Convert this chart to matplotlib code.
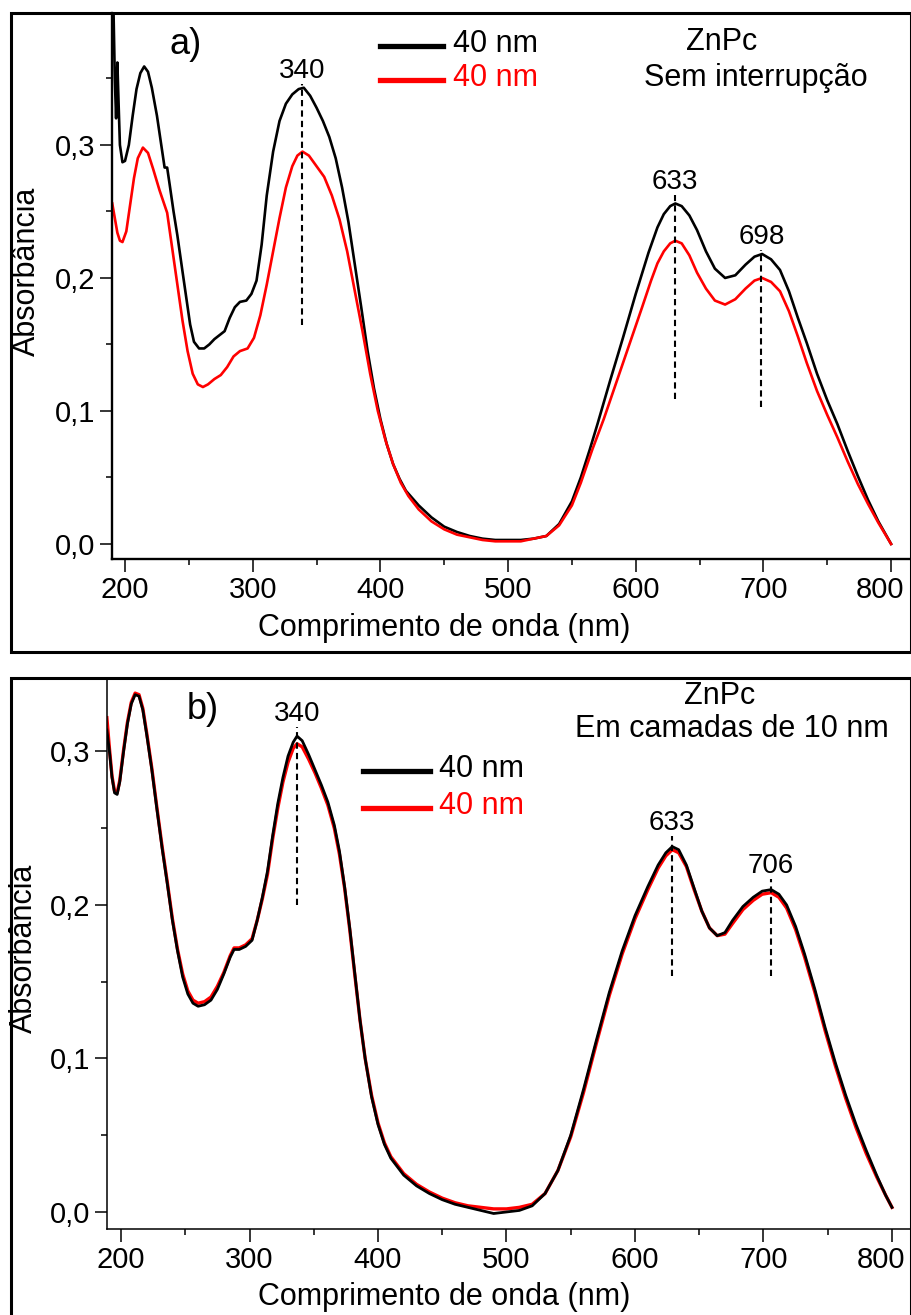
import numpy as np
import matplotlib
matplotlib.use("Agg")
import matplotlib.pyplot as plt
from matplotlib.patches import Rectangle
from matplotlib.ticker import MultipleLocator, FuncFormatter
from matplotlib.transforms import ScaledTranslation

plt.rcParams['font.family'] = ['Liberation Sans', 'DejaVu Sans']

W, H = 912, 1315

# ---- panel a: sem interrupção ----
wl_a_black = [190, 191, 192, 193, 194, 195, 196, 198, 200, 203, 206, 209, 212, 215, 218, 221, 225,
              229, 231, 233, 235, 238, 241, 245, 248, 251, 254, 258, 262, 266, 270, 274, 278, 282,
              286, 290, 295, 299, 303, 307, 311, 316, 321, 326, 331, 336, 340, 345, 350, 355, 360,
              365, 370, 375, 380, 385, 390, 395, 400, 405, 410, 415, 420, 430, 440, 450, 460, 470,
              480, 490, 500, 510, 520, 530, 540, 550, 557, 564, 570, 580, 590, 600, 610, 617, 622,
              627, 631, 636, 642, 648, 655, 662, 670, 678, 686, 693, 699, 706, 713, 720, 727, 734,
              742, 750, 758, 766, 774, 782, 790, 800]
abs_a_black = [0.41, 0.40, 0.35, 0.32, 0.362, 0.33, 0.30, 0.287, 0.288, 0.30, 0.322, 0.342, 0.354,
               0.359, 0.355, 0.343, 0.322, 0.296, 0.283, 0.283, 0.27, 0.25, 0.232, 0.205, 0.185,
               0.165, 0.152, 0.147, 0.147, 0.150, 0.154, 0.157, 0.160, 0.170, 0.178, 0.182, 0.183,
               0.188, 0.198, 0.225, 0.262, 0.295, 0.318, 0.331, 0.338, 0.342, 0.343, 0.337, 0.328,
               0.318, 0.306, 0.290, 0.268, 0.242, 0.210, 0.178, 0.145, 0.117, 0.094, 0.075, 0.060,
               0.049, 0.040, 0.029, 0.020, 0.013, 0.009, 0.006, 0.004, 0.003, 0.003, 0.003, 0.004,
               0.006, 0.015, 0.032, 0.050, 0.071, 0.090, 0.123, 0.155, 0.188, 0.219, 0.238, 0.248,
               0.254, 0.256, 0.254, 0.247, 0.236, 0.220, 0.207, 0.200, 0.202, 0.210, 0.216, 0.218,
               0.214, 0.206, 0.190, 0.170, 0.151, 0.128, 0.108, 0.090, 0.070, 0.051, 0.033, 0.017,
               0.0]

wl_a_red = [190, 192, 194, 196, 198, 201, 204, 207, 210, 214, 218, 222, 227, 233, 237, 241, 245,
            249, 253, 257, 261, 265, 270, 275, 280, 285, 290, 296, 301, 306, 311, 316, 321, 326,
            331, 335, 339, 344, 350, 356, 362, 368, 374, 380, 386, 392, 398, 404, 410, 416, 422,
            430, 440, 450, 460, 470, 480, 490, 500, 510, 520, 530, 540, 550, 557, 566, 575, 585,
            595, 605, 612, 617, 622, 627, 631, 636, 642, 648, 655, 662, 670, 678, 686, 693, 699,
            706, 713, 720, 727, 734, 742, 750, 758, 766, 774, 782, 790, 800]
abs_a_red = [0.256, 0.245, 0.234, 0.228, 0.227, 0.235, 0.255, 0.275, 0.290, 0.298, 0.294, 0.282,
             0.266, 0.249, 0.222, 0.195, 0.168, 0.145, 0.128, 0.120, 0.118, 0.120, 0.124, 0.127,
             0.133, 0.141, 0.145, 0.147, 0.155, 0.172, 0.195, 0.220, 0.245, 0.268, 0.284, 0.292,
             0.295, 0.292, 0.284, 0.276, 0.262, 0.244, 0.220, 0.190, 0.160, 0.128, 0.100, 0.078,
             0.060, 0.046, 0.036, 0.026, 0.017, 0.011, 0.007, 0.005, 0.003, 0.002, 0.002, 0.002,
             0.004, 0.006, 0.014, 0.029, 0.046, 0.071, 0.094, 0.122, 0.150, 0.178, 0.198, 0.211,
             0.220, 0.226, 0.228, 0.226, 0.217, 0.204, 0.192, 0.183, 0.180, 0.184, 0.192, 0.198,
             0.200, 0.197, 0.190, 0.175, 0.156, 0.136, 0.115, 0.097, 0.080, 0.062, 0.045, 0.030,
             0.016, 0.0]

# ---- panel b: em camadas de 10 nm ----
wl_b = [189, 191, 193, 195, 197, 199, 202, 205, 208, 211, 214, 217, 220, 224, 228, 232, 236, 240,
        244, 248, 252, 256, 260, 265, 270, 275, 280, 285, 288, 292, 297, 302, 306, 310, 314, 318,
        322, 326, 330, 334, 337, 341, 346, 351, 356, 361, 366, 370, 374, 378, 382, 386, 390, 395,
        400, 405, 410, 420, 430, 440, 450, 460, 470, 480, 490, 500, 510, 520, 530, 540, 550, 560,
        570, 580, 590, 600, 610, 618, 624, 629, 634, 640, 646, 652, 658, 664, 670, 676, 684, 692,
        699, 706, 712, 718, 725, 732, 740, 748, 756, 764, 772, 780, 788, 795, 800]
abs_b_black = [0.314, 0.300, 0.283, 0.273, 0.272, 0.280, 0.300, 0.318, 0.331, 0.337, 0.336, 0.327,
               0.311, 0.288, 0.262, 0.237, 0.214, 0.190, 0.170, 0.153, 0.142, 0.136, 0.134, 0.135,
               0.138, 0.145, 0.155, 0.166, 0.171, 0.171, 0.173, 0.177, 0.190, 0.205, 0.222, 0.245,
               0.266, 0.283, 0.297, 0.306, 0.310, 0.307, 0.298, 0.288, 0.278, 0.267, 0.252, 0.235,
               0.212, 0.185, 0.155, 0.125, 0.100, 0.075, 0.057, 0.044, 0.035, 0.024, 0.017, 0.012,
               0.008, 0.005, 0.003, 0.001, -0.001, 0.000, 0.001, 0.004, 0.012, 0.027, 0.050, 0.080,
               0.112, 0.143, 0.170, 0.193, 0.212, 0.226, 0.234, 0.238, 0.236, 0.226, 0.211, 0.196,
               0.185, 0.180, 0.182, 0.190, 0.199, 0.205, 0.209, 0.210, 0.207, 0.200, 0.186, 0.168,
               0.145, 0.120, 0.097, 0.076, 0.057, 0.040, 0.024, 0.011, 0.003]
abs_b_red = [0.322, 0.302, 0.284, 0.274, 0.273, 0.281, 0.301, 0.319, 0.332, 0.338, 0.337, 0.328,
             0.312, 0.289, 0.263, 0.238, 0.215, 0.191, 0.171, 0.155, 0.144, 0.138, 0.136, 0.137,
             0.140, 0.147, 0.156, 0.167, 0.172, 0.172, 0.174, 0.178, 0.190, 0.204, 0.220, 0.243,
             0.263, 0.280, 0.293, 0.302, 0.305, 0.303, 0.295, 0.286, 0.276, 0.265, 0.250, 0.233,
             0.211, 0.184, 0.154, 0.125, 0.100, 0.076, 0.058, 0.045, 0.036, 0.025, 0.018, 0.013,
             0.009, 0.006, 0.004, 0.003, 0.002, 0.002, 0.003, 0.005, 0.012, 0.027, 0.049, 0.078,
             0.110, 0.141, 0.168, 0.191, 0.210, 0.224, 0.232, 0.236, 0.234, 0.225, 0.210, 0.196,
             0.185, 0.180, 0.181, 0.188, 0.197, 0.203, 0.207, 0.208, 0.205, 0.198, 0.184, 0.166,
             0.143, 0.118, 0.095, 0.074, 0.055, 0.038, 0.023, 0.011, 0.003]

legend_labels = ["40 nm", "40 nm"]
peaks_a = ["340", "633", "698"]
peak_pos_a = [338.5, 631, 698.5]
peak_span_a = [(0.165, 0.346), (0.109, 0.262), (0.103, 0.221)]
peaks_b = ["340", "633", "706"]
peak_pos_b = [337, 629, 706]
peak_span_b = [(0.200, 0.316), (0.154, 0.245), (0.154, 0.217)]

FS_TICK = 21
FS_LAB = 22
FS_PEAK = 20


def px(x, y):
    return x / W, 1 - y / H


def comma(v, pos):
    return f"{v:.1f}".replace(".", ",")


def style_axes(ax, xlim, ylim, spine_lw):
    ax.set_xlim(*xlim)
    ax.set_ylim(*ylim)
    for s in ["top", "right"]:
        ax.spines[s].set_visible(False)
    for s in ["left", "bottom"]:
        ax.spines[s].set_linewidth(spine_lw)
    ax.xaxis.set_major_locator(MultipleLocator(100))
    ax.xaxis.set_minor_locator(MultipleLocator(50))
    ax.yaxis.set_major_locator(MultipleLocator(0.1))
    ax.yaxis.set_minor_locator(MultipleLocator(0.05))
    ax.yaxis.set_major_formatter(FuncFormatter(comma))
    ax.tick_params(which="major", direction="out", length=9, width=1.1, labelsize=FS_TICK, pad=3)
    ax.tick_params(which="minor", direction="out", length=4.5, width=1.1)
    ax.set_xlabel("Comprimento de onda (nm)", fontsize=FS_LAB)
    ax.set_ylabel("Absorbância", fontsize=FS_LAB)


def nudge_last_xlabel(ax, fig):
    # the "800" label sits a little left of its tick so it stays inside the frame
    fig.canvas.draw()
    for tick in ax.xaxis.get_major_ticks():
        if abs(tick.get_loc() - 800) < 1:
            lab = tick.label1
            lab.set_transform(lab.get_transform() + ScaledTranslation(-11 / 100, 0, fig.dpi_scale_trans))


fig = plt.figure(figsize=(W / 100, H / 100), dpi=100)

# panel frames
fig.add_artist(Rectangle(px(11, 652), 900 / W, 639 / H, transform=fig.transFigure,
                         fill=False, lw=2.2, color="black"))
fig.add_artist(Rectangle(px(11, 1330), 900 / W, 652 / H, transform=fig.transFigure,
                         fill=False, lw=2.2, color="black"))

# ---- panel a ----
ax1 = fig.add_axes([112 / W, 1 - 559 / H, 799 / W, 546 / H])
ax1.plot(wl_a_black, abs_a_black, color="black", lw=1.9)
ax1.plot(wl_a_red, abs_a_red, color="red", lw=1.9)
style_axes(ax1, (189.8, 815.6), (-0.0113, 0.3992), 1.7)
for lab, xp, (y0, y1) in zip(peaks_a, peak_pos_a, peak_span_a):
    ax1.vlines(xp, y0, y1, colors="black", linestyles=(0, (3, 2)), lw=1.5)
    ax1.text(xp, y1, lab, ha="center", va="bottom", fontsize=FS_PEAK)
ax1.yaxis.set_label_coords(-0.088, 0.526)
ax1.xaxis.set_label_coords(0.4155, -0.098)

fig.text(*px(186, 44), "a)", fontsize=26, ha="center", va="center")
fig.add_artist(plt.Line2D([380 / W, 443 / W], [1 - 46 / H] * 2, color="black", lw=3.8))
fig.add_artist(plt.Line2D([380 / W, 443 / W], [1 - 80 / H] * 2, color="red", lw=3.8))
fig.text(*px(453, 44), legend_labels[0], fontsize=FS_LAB, ha="left", va="center", color="black")
fig.text(*px(453, 78), legend_labels[1], fontsize=FS_LAB, ha="left", va="center", color="red")
fig.text(*px(722, 42), "ZnPc", fontsize=FS_LAB, ha="center", va="center")
fig.text(*px(756, 78), "Sem interrupção", fontsize=FS_LAB, ha="center", va="center")

# ---- panel b ----
ax2 = fig.add_axes([107 / W, 1 - 1229 / H, 804 / W, 550 / H])
ax2.plot(wl_b, abs_b_red, color="red", lw=2.4)
ax2.plot(wl_b, abs_b_black, color="black", lw=2.0)
style_axes(ax2, (189.1, 814.8), (-0.0111, 0.3472), 1.1)
for lab, xp, (y0, y1) in zip(peaks_b, peak_pos_b, peak_span_b):
    ax2.vlines(xp, y0, y1, colors="black", linestyles=(0, (3, 2)), lw=1.5)
    ax2.text(xp, y1, lab, ha="center", va="bottom", fontsize=FS_PEAK)
ax2.yaxis.set_label_coords(-0.085, 0.511)
ax2.xaxis.set_label_coords(0.419, -0.096)

fig.text(*px(203, 710), "b)", fontsize=26, ha="center", va="center")
fig.add_artist(plt.Line2D([363 / W, 430 / W], [1 - 771 / H] * 2, color="black", lw=3.8))
fig.add_artist(plt.Line2D([363 / W, 430 / W], [1 - 808 / H] * 2, color="red", lw=3.8))
fig.text(*px(439, 769), legend_labels[0], fontsize=FS_LAB, ha="left", va="center", color="black")
fig.text(*px(439, 806), legend_labels[1], fontsize=FS_LAB, ha="left", va="center", color="red")
fig.text(*px(720, 696), "ZnPc", fontsize=FS_LAB, ha="center", va="center")
fig.text(*px(732, 729), "Em camadas de 10 nm", fontsize=FS_LAB, ha="center", va="center")

nudge_last_xlabel(ax1, fig)
nudge_last_xlabel(ax2, fig)

fig.savefig("out.png", dpi=100)
